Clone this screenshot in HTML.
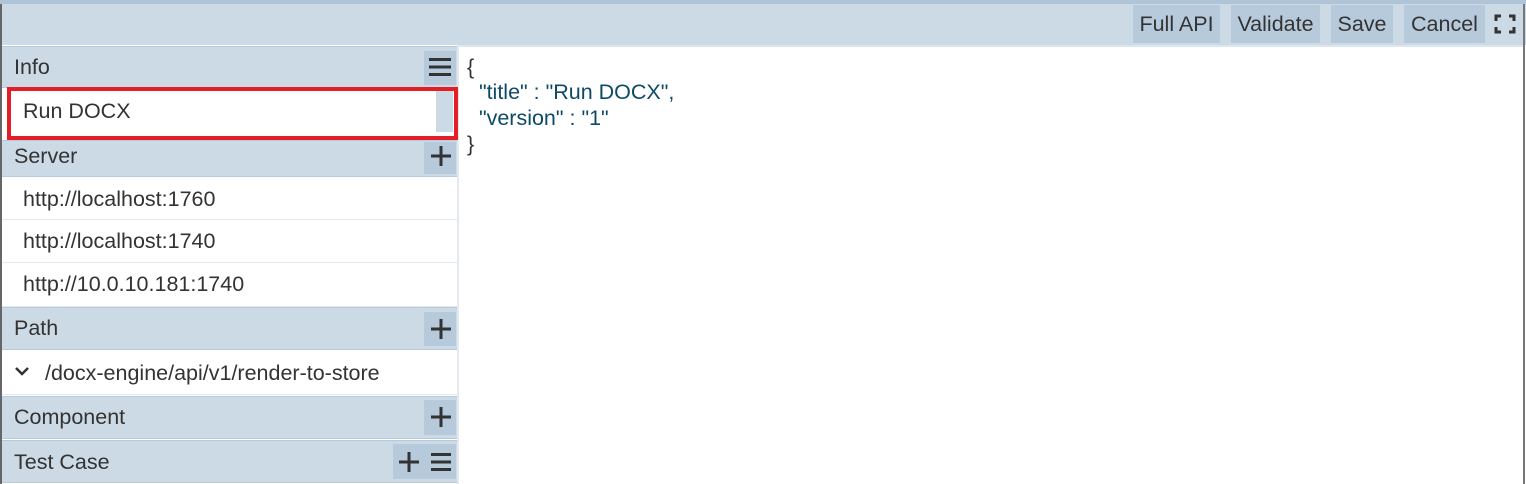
<!DOCTYPE html>
<html><head><style>
body{margin:0;width:1526px;height:484px;position:relative;overflow:hidden;background:#fff;font-family:"Liberation Sans",sans-serif;color:#333;font-size:21.5px}
div{position:absolute;box-sizing:border-box}
svg{position:absolute}
.h{left:2px;width:455px;background:#ccdae6;border-top:1px solid #b7cadc;border-bottom:1px solid #b7cadc}
.t{left:12px;line-height:1}
.b{background:#b7cadc}
.it{left:2px;width:455px;background:#fff;border-bottom:1px solid #e3e9ef}
.tb{top:5px;height:38px;background:#b7cadc;line-height:38px;text-align:center;font-size:21.5px}
.j{left:467px;font-size:21.5px;line-height:26px;white-space:pre}
</style></head><body>
<div style="left:0;top:0;width:1526px;height:4px;background:#b0c4d8"></div>
<div style="left:0;top:4px;width:1526px;height:41px;background:#ccdae6"></div>
<div style="left:0;top:4px;width:2px;height:480px;background:#666"></div>
<div style="left:1523px;top:4px;width:2px;height:480px;background:#777"></div>
<div class="tb" style="left:1133px;width:87px">Full API</div>
<div class="tb" style="left:1231px;width:89px">Validate</div>
<div class="tb" style="left:1331px;width:62px">Save</div>
<div class="tb" style="left:1404px;width:81px">Cancel</div>
<svg style="left:1494px;top:14px" width="22" height="20"><path d="M2 7V2H7M15 2H20V7M20 13V18H15M7 18H2V13" fill="none" stroke="#333" stroke-width="3"/></svg>
<div style="left:457px;top:45px;width:2px;height:439px;background:#e3e9ef"></div>
<div style="left:459px;top:45px;width:1064px;height:2px;background:#dde6ee"></div>
<div class="j" style="top:54px">{</div>
<div class="j" style="top:79px;color:#0e4a66">  "title" : "Run DOCX",</div>
<div class="j" style="top:105px;color:#0e4a66">  "version" : "1"</div>
<div class="j" style="top:131px">}</div>

<div class="h" style="top:46px;height:42px"><span class="t" style="position:absolute;top:10px">Info</span></div>
<div class="b" style="left:424px;top:51px;width:32px;height:34px"></div>
<svg style="left:428px;top:57px" width="24" height="20"><path d="M1 2.5H23M1 10H23M1 17.5H23" stroke="#333" stroke-width="3"/></svg>
<div style="left:7px;top:87px;width:451px;height:53px;border:4px solid #e41e26;background:#fff"></div>
<div style="left:436px;top:91px;width:17px;height:41px;background:#ccdae6"></div>
<div style="left:23px;top:99px">Run DOCX</div>

<div class="h" style="top:140px;height:37px"><span class="t" style="position:absolute;top:5px">Server</span></div>
<div class="b" style="left:424px;top:142px;width:32px;height:32px"></div>
<svg style="left:430px;top:145px" width="22" height="22"><path d="M11 1V21M1 11H21" stroke="#333" stroke-width="3"/></svg>
<div class="it" style="top:177px;height:43px"><span style="position:absolute;left:21px;top:10px">http://localhost:1760</span></div>
<div class="it" style="top:220px;height:43px"><span style="position:absolute;left:21px;top:9px">http://localhost:1740</span></div>
<div class="it" style="top:263px;height:44px"><span style="position:absolute;left:21px;top:9px">http://10.0.10.181:1740</span></div>

<div class="h" style="top:307px;height:43px"><span class="t" style="position:absolute;top:10px">Path</span></div>
<div class="b" style="left:424px;top:312px;width:32px;height:34px"></div>
<svg style="left:430px;top:318px" width="22" height="22"><path d="M11 1V21M1 11H21" stroke="#333" stroke-width="3"/></svg>
<div class="it" style="top:350px;height:45px"><span style="position:absolute;left:43px;top:11px">/docx-engine/api/v1/render-to-store</span>
<svg style="left:12px;top:15px" width="16" height="12"><path d="M2 3L8 9L14 3" fill="none" stroke="#333" stroke-width="2.5"/></svg></div>

<div class="h" style="top:396px;height:43px"><span class="t" style="position:absolute;top:10px">Component</span></div>
<div class="b" style="left:424px;top:400px;width:32px;height:35px"></div>
<svg style="left:430px;top:406px" width="22" height="22"><path d="M11 1V21M1 11H21" stroke="#333" stroke-width="3"/></svg>

<div class="h" style="top:440px;height:43px"><span class="t" style="position:absolute;top:11px">Test Case</span></div>
<div class="b" style="left:393px;top:444px;width:63px;height:35px"></div>
<svg style="left:398px;top:451px" width="22" height="22"><path d="M11 1V21M1 11H21" stroke="#333" stroke-width="3"/></svg>
<svg style="left:430px;top:452px" width="22" height="20"><path d="M1 2.5H21M1 10H21M1 17.5H21" stroke="#333" stroke-width="3"/></svg>
</body></html>
